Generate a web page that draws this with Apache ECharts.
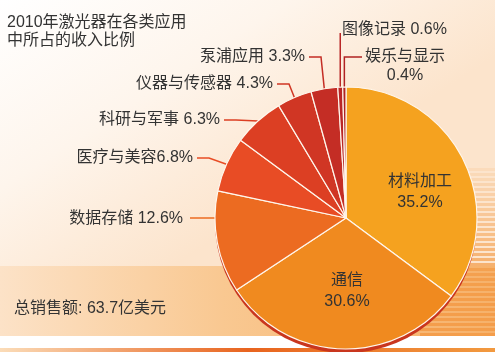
<!DOCTYPE html>
<html>
<head>
<meta charset="utf-8">
<script src="https://cdn.jsdelivr.net/npm/echarts@6/dist/echarts.min.js"></script>
<style>
  html, body { margin: 0; padding: 0; background: #fff; }
  #chart-panel { width: 495px; height: 352px; }
</style>
</head>
<body>
<div id="chart-panel"></div>
<script>
// shares of laser revenue in 2010, clockwise from 12 o'clock
var categories = ['材料加工', '通信', '数据存储', '医疗与美容', '科研与军事', '仪器与传感器', '泵浦应用', '图像记录', '娱乐与显示'];
var shares = [35.2, 30.6, 12.6, 6.8, 6.3, 4.3, 3.3, 0.6, 0.4];
var sliceColors = ['#f5a21f', '#f08a1f', '#ec6b21', '#e84c25', '#dc3f23', '#d03624', '#c42d25', '#b92626', '#b02222'];
var titleText = '2010年激光器在各类应用\n中所占的收入比例';
var totalText = '总销售额: 63.7亿美元';

var font = "'Liberation Sans', 'Noto Sans CJK SC', sans-serif";
var cx = 346, cy = 218, r = 131;

// where each label sits (x, y of the text anchor)
var spots = [
    { x: 420, y: 192, align: 'center' },
    { x: 347, y: 291, align: 'center' },
    { x: 183, y: 219, align: 'right', flat: true },
    { x: 193, y: 158, align: 'right' },
    { x: 220, y: 120, align: 'right' },
    { x: 273, y: 84, align: 'right' },
    { x: 305, y: 57, align: 'right' },
    { x: 342, y: 30, align: 'left', up: 33 },
    { x: 405, y: 66, align: 'center', up: 57, side: 362 }
];

var data = categories.map(function (name, i) {
    var inside = i < 2;
    var fmt = '{b} {c}%';
    if (inside || i == 8) fmt = '{b}\n{c}%';
    if (i == 3) fmt = '{b}{c}%';
    return {
        name: name,
        value: shares[i],
        itemStyle: { color: sliceColors[i] },
        label: { position: inside ? 'inside' : 'outside', formatter: fmt, lineHeight: inside ? 21 : 19 },
        labelLine: { show: !inside }
    };
});

// background decoration
var bg = [
    {
        type: 'rect', z: -10, silent: true,
        shape: { x: 0, y: 0, width: 495, height: 266 },
        style: { fill: new echarts.graphic.LinearGradient(0, 0, 0.35, 1, [
            { offset: 0, color: '#ffffff' },
            { offset: 0.5, color: '#fef5ec' },
            { offset: 1, color: '#fce4cc' }
        ]) }
    },
    {
        type: 'rect', z: -10, silent: true,
        shape: { x: 0, y: 266, width: 495, height: 70 },
        style: { fill: new echarts.graphic.LinearGradient(0, 0, 1, 0, [
            { offset: 0, color: '#fce2c7' },
            { offset: 0.45, color: '#f9c891' },
            { offset: 1, color: '#f6b16a' }
        ]) }
    },
    {
        type: 'rect', z: -10, silent: true,
        shape: { x: 0, y: 336, width: 495, height: 12 },
        style: { fill: '#ffffff' }
    },
    {
        type: 'rect', z: -10, silent: true,
        shape: { x: 0, y: 348, width: 495, height: 4 },
        style: { fill: new echarts.graphic.LinearGradient(0, 0, 1, 0, [
            { offset: 0, color: '#fbdcb8' },
            { offset: 0.5, color: '#e8641f' },
            { offset: 1, color: '#f29a40' }
        ]) }
    }
];
for (var s = 0; s < 34; s++) {
    var sy = 168 + s * 5;
    if (sy > 333) break;
    bg.push({
        type: 'rect', z: -9, silent: true,
        shape: { x: 420, y: sy, width: 75, height: 3 },
        style: { fill: '#f39a45', opacity: Math.min(0.85, 0.12 + s * 0.03) }
    });
}
// pie thickness rim
bg.push({
    type: 'circle', z: -5, silent: true,
    shape: { cx: cx, cy: cy + 4, r: r },
    style: { fill: '#c9361e' }
});

option = {
    animation: false,
    title: [{
        text: titleText,
        left: 7,
        top: 14,
        padding: 0,
        textStyle: { fontFamily: font, fontSize: 16, fontWeight: 'normal', color: '#333', lineHeight: 18 }
    }, {
        text: totalText,
        left: 14,
        top: 301,
        padding: 0,
        textStyle: { fontFamily: font, fontSize: 16, fontWeight: 'normal', color: '#333' }
    }],
    graphic: bg,
    series: [{
        name: 'pie',
        type: 'pie',
        center: [cx, cy],
        radius: r,
        startAngle: 90,
        clockwise: true,
        avoidLabelOverlap: false,
        itemStyle: { borderColor: '#fff6ec', borderWidth: 1.2 },
        label: { fontFamily: font, fontSize: 16, color: '#333' },
        labelLine: { lineStyle: { width: 1.5 } },
        labelLayout: function (p) {
            var sp = spots[p.dataIndex];
            var out = { x: sp.x, y: sp.y, align: sp.align, verticalAlign: 'middle' };
            if (p.dataIndex < 2 || !p.labelLinePoints) return out;
            var e = p.labelLinePoints[0];
            if (sp.flat) {
                var ex = cx - Math.sqrt(r * r - (sp.y - cy) * (sp.y - cy));
                out.labelLinePoints = [[ex, sp.y - 1], [sp.x + 12, sp.y - 1], [sp.x + 7, sp.y - 1]];
            } else if (sp.side) {
                out.labelLinePoints = [e, [e[0], sp.up], [sp.side, sp.up]];
            } else if (sp.up) {
                out.labelLinePoints = [e, [e[0], sp.up], [e[0], sp.up]];
            } else {
                out.labelLinePoints = [e, [sp.x + 16, sp.y], [sp.x + 4, sp.y]];
            }
            return out;
        },
        data: data
    }]
};

var chart = echarts.init(document.getElementById('chart-panel'));
chart.setOption(option);
</script>
</body>
</html>
